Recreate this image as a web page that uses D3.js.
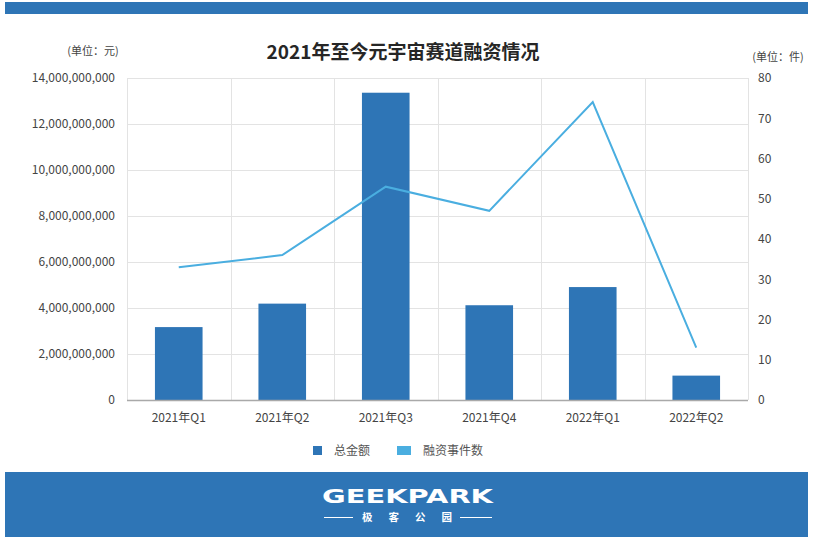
<!DOCTYPE html>
<html>
<head>
<meta charset="utf-8">
<script src="https://cdn.jsdelivr.net/npm/d3@7"></script>
<style>
  html, body { margin: 0; padding: 0; background: #fff; }
  svg { display: block; font-family: "Noto Sans CJK SC", "Noto Sans", sans-serif; }
</style>
</head>
<body>
<div id="chart"></div>
<script>
"use strict";

/* ── Data ── */
const quarters = ["2021年Q1", "2021年Q2", "2021年Q3", "2021年Q4", "2022年Q1", "2022年Q2"];
const totalAmount = [3170000000, 4190000000, 13360000000, 4120000000, 4910000000, 1060000000];
const eventCount = [33, 36, 53, 47, 74, 13];
const leftTicks = [0, 2e9, 4e9, 6e9, 8e9, 10e9, 12e9, 14e9];
const rightTicks = [0, 10, 20, 30, 40, 50, 60, 70, 80];

const W = 813, H = 538;
const BAR = "#2e75b6", LINE = "#4aaee0";
const m = { left: 127, right: 748, top: 78, bottom: 400 };

const svg = d3.select("#chart").append("svg")
  .attr("width", W).attr("height", H);

/* ── Header / footer bands ── */
svg.append("rect").attr("x", 5).attr("y", 2).attr("width", 803).attr("height", 12).attr("fill", BAR);
svg.append("rect").attr("x", 5).attr("y", 472).attr("width", 803).attr("height", 65).attr("fill", BAR);

/* ── Scales ── */
const x = d3.scaleBand().domain(quarters).range([m.left, m.right]).paddingInner(0).paddingOuter(0);
const yL = d3.scaleLinear().domain([0, 14e9]).range([m.bottom, m.top]);
const yR = d3.scaleLinear().domain([0, 80]).range([m.bottom, m.top]);

/* ── Grid ── */
const grid = svg.append("g").attr("stroke", "#e3e3e3").attr("stroke-width", 1);
leftTicks.forEach(t => {
  grid.append("line").attr("x1", m.left).attr("x2", m.right)
    .attr("y1", Math.round(yL(t)) + 0.5).attr("y2", Math.round(yL(t)) + 0.5);
});
quarters.concat([null]).forEach((q, i) => {
  const xx = Math.round(m.left + i * x.bandwidth()) + 0.5;
  grid.append("line").attr("x1", xx).attr("x2", xx).attr("y1", m.top).attr("y2", m.bottom);
});

/* ── Bars ── */
const bw = x.bandwidth() * 0.46;
svg.append("g").selectAll("rect").data(quarters).join("rect")
  .attr("x", d => x(d) + (x.bandwidth() - bw) / 2)
  .attr("y", (d, i) => yL(totalAmount[i]))
  .attr("width", bw)
  .attr("height", (d, i) => m.bottom - yL(totalAmount[i]))
  .attr("fill", BAR);

/* ── Line ── */
const line = d3.line()
  .x((d, i) => x(quarters[i]) + x.bandwidth() / 2)
  .y(d => yR(d));
svg.append("path").datum(eventCount)
  .attr("d", line)
  .attr("fill", "none")
  .attr("stroke", LINE)
  .attr("stroke-width", 2);

/* ── Baseline ── */
svg.append("line").attr("x1", m.left).attr("x2", m.right)
  .attr("y1", m.bottom + 0.5).attr("y2", m.bottom + 0.5)
  .attr("stroke", "#a9a9a9").attr("stroke-width", 1.5);

/* ── Axes ── */
const axisLeft = svg.append("g").attr("transform", `translate(${m.left - 12},0)`)
  .call(d3.axisLeft(yL).tickValues(leftTicks).tickSize(0).tickFormat(d3.format(",")));
const axisRight = svg.append("g").attr("transform", `translate(${m.right + 10},0)`)
  .call(d3.axisRight(yR).tickValues(rightTicks).tickSize(0));
const axisBottom = svg.append("g").attr("transform", `translate(0,${m.bottom + 10})`)
  .call(d3.axisBottom(x).tickSize(0));
[axisLeft, axisRight, axisBottom].forEach(a => {
  a.select(".domain").remove();
  a.selectAll("text")
    .attr("fill", "#444")
    .attr("font-size", "12px")
    .attr("font-family", "'Noto Sans CJK SC', 'Noto Sans', sans-serif");
});
axisLeft.selectAll("text").attr("x", 0);
axisRight.selectAll("text").attr("x", 0);

/* ── Titles ── */
svg.append("text")
  .attr("x", 403).attr("y", 59)
  .attr("text-anchor", "middle")
  .attr("font-size", "19px")
  .attr("font-weight", "700")
  .attr("fill", "#262626")
  .text("2021年至今元宇宙赛道融资情况");

svg.append("text").attr("x", 93).attr("y", 55).attr("text-anchor", "middle")
  .attr("font-size", "11px").attr("fill", "#444").text("(单位：元)");
svg.append("text").attr("x", 778).attr("y", 61).attr("text-anchor", "middle")
  .attr("font-size", "11px").attr("fill", "#444").text("(单位：件)");

/* ── Legend ── */
const legendItems = [
  { label: "总金额", colour: BAR, x: 313, w: 9 },
  { label: "融资事件数", colour: LINE, x: 397, w: 14 },
];
legendItems.forEach(d => {
  svg.append("rect").attr("x", d.x).attr("y", 446).attr("width", d.w).attr("height", 9)
    .attr("fill", d.colour);
  svg.append("text").attr("x", d.x + d.w + 12).attr("y", 455)
    .attr("font-size", "12px").attr("fill", "#555").text(d.label);
});

/* ── Footer logo ── */
svg.append("text")
  .attr("x", 322).attr("y", 503)
  .attr("font-size", "19px")
  .attr("font-weight", "700")
  .attr("font-family", "'DejaVu Sans', sans-serif")
  .attr("textLength", 171)
  .attr("lengthAdjust", "spacingAndGlyphs")
  .attr("fill", "#fff")
  .text("GEEKPARK");
svg.append("text")
  .attr("x", 362).attr("y", 521)
  .attr("font-size", "10.5px")
  .attr("font-weight", "700")
  .attr("textLength", 90)
  .attr("lengthAdjust", "spacing")
  .attr("fill", "#fff")
  .text("极客公园");
[[324, 353], [460, 492]].forEach(([a, b]) => {
  svg.append("line").attr("x1", a).attr("x2", b).attr("y1", 517.5).attr("y2", 517.5)
    .attr("stroke", "#fff").attr("stroke-width", 1);
});
</script>
</body>
</html>
